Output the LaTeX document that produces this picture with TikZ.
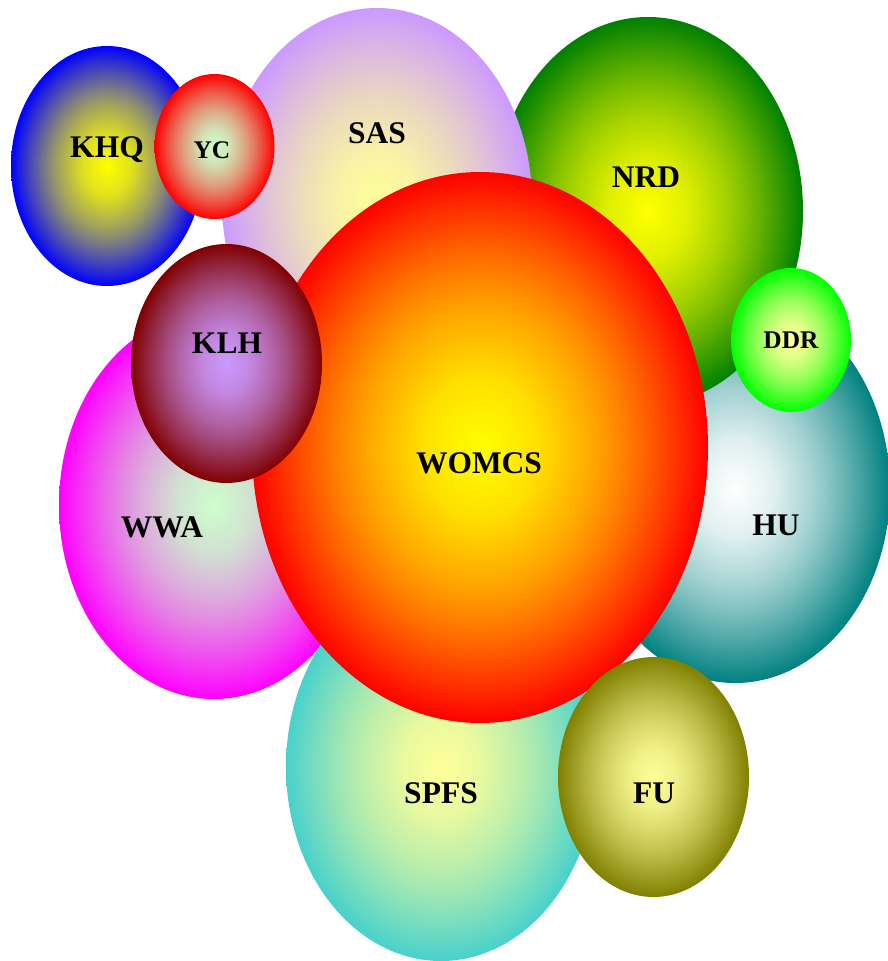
\documentclass[tikz,border=0pt]{standalone}
\usepackage{fontspec}
\setmainfont{Liberation Serif}

\definecolor{paleyellow}{RGB}{255,255,153}
\definecolor{palegreen}{RGB}{204,255,204}
\definecolor{lavender}{RGB}{204,153,255}
\definecolor{turq}{RGB}{72,209,204}
\definecolor{darkteal}{RGB}{0,128,128}
\definecolor{darkgreen}{RGB}{0,128,0}
\definecolor{maroon}{RGB}{128,0,0}
\definecolor{lime}{RGB}{0,255,0}
\colorlet{bubin}{white}
\colorlet{bubout}{black}

% inner colour holds a little longer than a plain linear ramp
\pgfdeclareradialshading[bubin,bubout]{bubble}{\pgfpointorigin}{%
  color(0bp)=(bubin); color(6.25bp)=(bubin!88!bubout);
  color(12.5bp)=(bubin!65!bubout); color(15.625bp)=(bubin!51!bubout);
  color(18.75bp)=(bubin!35!bubout); color(21.875bp)=(bubin!18!bubout);
  color(25bp)=(bubout); color(50bp)=(bubout)}

\tikzset{lbl/.style={anchor=base, inner sep=0pt, font=\bfseries}}

\begin{document}
\begin{tikzpicture}[x=1pt,y=-1pt]
  \useasboundingbox (0,0) rectangle (888,961);
  \foreach \n/\cx/\cy/\rx/\ry/\ci/\co/\lx/\ly/\fs in
  {HU/735/489/155/194/white/darkteal/776/535/31.5,
   NRD/648/211/155/194/yellow/darkgreen/646/187/31.5,
   SAS/377/202/155/194/paleyellow/lavender/377/143/31.5,
   WWA/214/505/155/194/palegreen/magenta/162/537/31.5,
   SPFS/441/767/155/194/paleyellow/turq/441/803/31.5,
   KHQ/107/166/96/120/yellow/blue/107/157/31.5,
   YC/214.5/146.5/60/72.5/palegreen/red/212/158/25.4,
   WOMCS/480/447.5/228/275.5/yellow/red/479/473/31.5,
   KLH/226.5/363.5/95.5/119.5/lavender/maroon/227/353/31.5,
   DDR/791/340/60/72/paleyellow/lime/791/348/25.4,
   FU/653.5/777/95.5/120/paleyellow/olive/654/803/31.5}
  {
    \colorlet{bubin}{\ci}\colorlet{bubout}{\co}
    \shade[shading=bubble] (\cx,\cy) ellipse [x radius=\rx, y radius=\ry];
    \node[lbl] (\n) at (\lx,\ly) {\fontsize{\fs}{\fs}\selectfont \n};
  }
\end{tikzpicture}
\end{document}
